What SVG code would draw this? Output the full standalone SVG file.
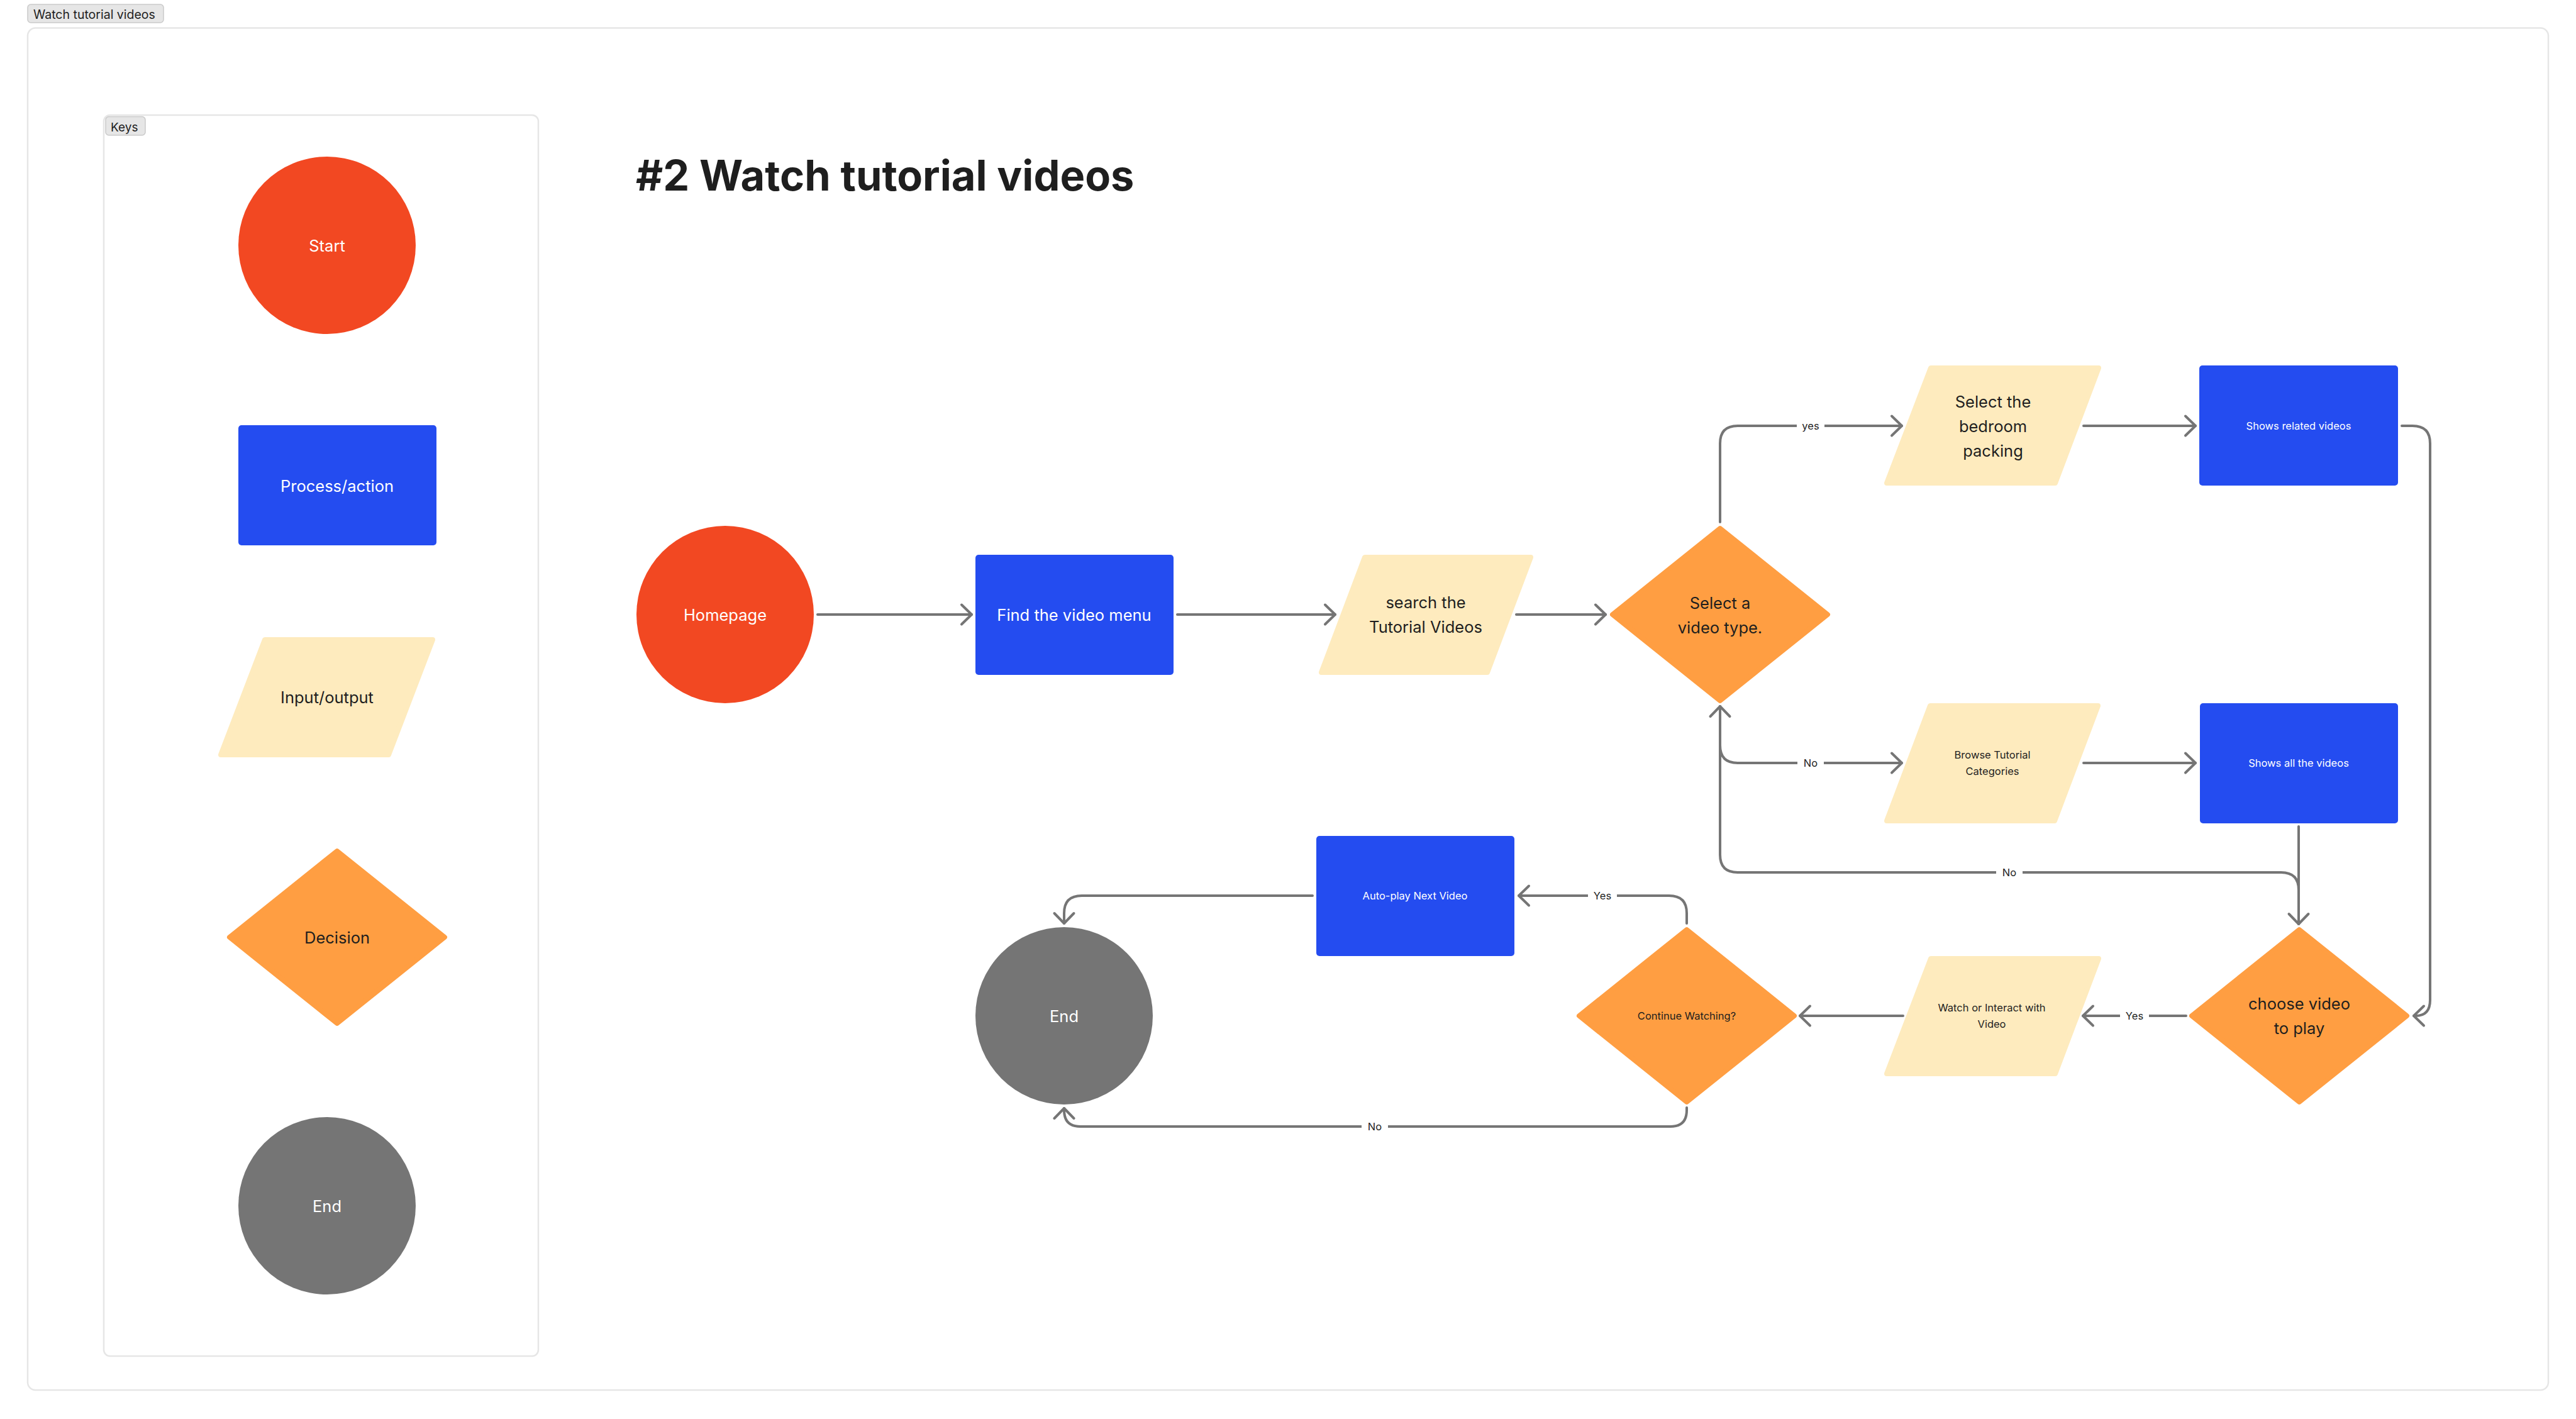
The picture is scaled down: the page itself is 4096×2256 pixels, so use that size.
<svg xmlns="http://www.w3.org/2000/svg" width="4096" height="2256" viewBox="0 0 4096 2256">
<style>
.t{font-family:Inter,'Liberation Sans',sans-serif}
.big{font-size:25.5px;text-anchor:middle}
.sm{font-size:16.5px;text-anchor:middle}
.w{fill:#ffffff}
.d{fill:#1E1E1E}
.red{fill:#F24822}
.blue{fill:#244CF0}
.yel{fill:#FEEBBE;stroke:#FEEBBE;stroke-width:8;stroke-linejoin:round}
.org{fill:#FF9E42;stroke:#FF9E42;stroke-width:8;stroke-linejoin:round}
.gry{fill:#757575}
.conn{fill:none;stroke:#757575;stroke-width:4;stroke-linecap:round;stroke-linejoin:round}
.lbg{fill:#ffffff}
.lbl{font-size:16.5px;text-anchor:middle;fill:#1E1E1E}
.frame{fill:none;stroke:#E6E6E6;stroke-width:2.5}
.tag{fill:#E6E6E6;stroke:#CACACA;stroke-width:1.5}
</style>
<defs>
<marker id="arr" markerUnits="userSpaceOnUse" markerWidth="40" markerHeight="40" refX="0" refY="0" orient="auto" overflow="visible">
<path d="M -16 -15.5 L 0 0 L -16 15.5" fill="none" stroke="#757575" stroke-width="4" stroke-linecap="round" stroke-linejoin="round"/>
</marker>
</defs>
<rect width="4096" height="2256" fill="#ffffff"/>

<g id="frame-main">
<rect class="frame" x="44" y="44.5" width="4008" height="2165.5" rx="12.5"/>
<rect class="tag" x="44" y="7" width="216" height="29" rx="5"/>
<text class="t d" x="53" y="29.5" font-size="19.5">Watch tutorial videos</text>
</g>

<g id="keys-frame">
<rect class="frame" x="165" y="183" width="691" height="1973" rx="10"/>
<rect class="tag" x="168" y="185.5" width="63" height="29.5" rx="5"/>
<text class="t d" x="176" y="209" font-size="19">Keys</text>
</g>

<g id="key-start">
<circle class="red" cx="520" cy="390" r="141"/>
<text class="t big w" x="520" y="399.5">Start</text>
</g>
<g id="key-process">
<rect class="blue" x="379" y="676" width="315" height="191" rx="5"/>
<text class="t big w" x="536" y="781.5">Process/action</text>
</g>
<g id="key-io">
<polygon class="yel" points="421,1017 688,1017 618,1200 351,1200"/>
<text class="t big d" x="520" y="1117.5">Input/output</text>
</g>
<g id="key-decision">
<polygon class="org" points="536,1353 707,1490 536,1627 365,1490"/>
<text class="t big d" x="536" y="1499.5">Decision</text>
</g>
<g id="key-end">
<circle class="gry" cx="520" cy="1917" r="141"/>
<text class="t big w" x="520" y="1926.5">End</text>
</g>

<g id="title">
<text class="t d" x="1011" y="303" font-size="66.7" font-weight="700">#2 Watch tutorial videos</text>
</g>

<g id="connectors">
<path class="conn" marker-end="url(#arr)" d="M 1300 977 L 1545 977"/>
<path class="conn" marker-end="url(#arr)" d="M 1872 977 L 2123 977"/>
<path class="conn" marker-end="url(#arr)" d="M 2411 977 L 2553 977"/>
<path class="conn" marker-end="url(#arr)" d="M 2735 830 L 2735 705 Q 2735 677 2763 677 L 3024 677"/>
<path class="conn" marker-end="url(#arr)" d="M 3313 677 L 3491 677"/>
<path class="conn" marker-end="url(#arr)" d="M 3819 677 L 3836 677 Q 3864 677 3864 705 L 3864 1590 Q 3864 1615 3841 1615 L 3838 1615"/>
<path class="conn" marker-end="url(#arr)" d="M 2735 1123 L 2735 1185 Q 2735 1213 2763 1213 L 3024 1213"/>
<path class="conn" marker-end="url(#arr)" d="M 3313 1213 L 3491 1213"/>
<path class="conn" marker-end="url(#arr)" d="M 3655 1314 L 3655 1469"/>
<path class="conn" marker-end="url(#arr)" d="M 3655 1469 L 3655 1415 Q 3655 1387 3627 1387 L 2763 1387 Q 2735 1387 2735 1359 L 2735 1123"/>
<path class="conn" marker-end="url(#arr)" d="M 3476 1615 L 3312 1615"/>
<path class="conn" marker-end="url(#arr)" d="M 3026 1615 L 2862 1615"/>
<path class="conn" marker-end="url(#arr)" d="M 2682 1468 L 2682 1452 Q 2682 1424 2654 1424 L 2415 1424"/>
<path class="conn" marker-end="url(#arr)" d="M 2087 1424 L 1720 1424 Q 1692 1424 1692 1452 L 1692 1468"/>
<path class="conn" marker-end="url(#arr)" d="M 2682 1761 L 2682 1765 Q 2682 1791 2656 1791 L 1718 1791 Q 1692 1791 1692 1765 L 1692 1762"/>
<rect class="lbg" x="2857" y="665" width="44" height="24"/>
<text class="t lbl" x="2879" y="683">yes</text>
<rect class="lbg" x="2858" y="1201" width="42" height="24"/>
<text class="t lbl" x="2879" y="1219">No</text>
<rect class="lbg" x="3174" y="1375" width="42" height="24"/>
<text class="t lbl" x="3195" y="1393">No</text>
<rect class="lbg" x="3371" y="1603" width="46" height="24"/>
<text class="t lbl" x="3394" y="1621">Yes</text>
<rect class="lbg" x="2525" y="1412" width="46" height="24"/>
<text class="t lbl" x="2548" y="1430">Yes</text>
<rect class="lbg" x="2165" y="1779" width="42" height="24"/>
<text class="t lbl" x="2186" y="1797">No</text>
</g>

<g id="homepage">
<circle class="red" cx="1153" cy="977" r="141"/>
<text class="t big w" x="1153" y="986.5">Homepage</text>
</g>
<g id="find-video-menu">
<rect class="blue" x="1551" y="882" width="315" height="191" rx="5"/>
<text class="t big w" x="1708" y="986.5">Find the video menu</text>
</g>
<g id="search-tutorial-videos">
<polygon class="yel" points="2170,886 2434,886 2365,1069 2101,1069"/>
<text class="t big d" x="2267" y="967">search the</text>
<text class="t big d" x="2267" y="1006">Tutorial Videos</text>
</g>
<g id="select-video-type">
<polygon class="org" points="2735,840 2906,977 2735,1114 2564,977"/>
<text class="t big d" x="2735" y="968">Select a</text>
<text class="t big d" x="2735" y="1007">video type.</text>
</g>
<g id="select-bedroom-packing">
<polygon class="yel" points="3070,585 3337,585 3268,768 3000,768"/>
<text class="t big d" x="3169" y="648">Select the</text>
<text class="t big d" x="3169" y="687">bedroom</text>
<text class="t big d" x="3169" y="726">packing</text>
</g>
<g id="shows-related-videos">
<rect class="blue" x="3497" y="581" width="316" height="191" rx="5"/>
<text class="t sm w" x="3655" y="683">Shows related videos</text>
</g>
<g id="browse-tutorial-categories">
<polygon class="yel" points="3069,1122 3336,1122 3267,1305 3000,1305"/>
<text class="t sm d" x="3168" y="1206">Browse Tutorial</text>
<text class="t sm d" x="3168" y="1232">Categories</text>
</g>
<g id="shows-all-videos">
<rect class="blue" x="3498" y="1118" width="315" height="191" rx="5"/>
<text class="t sm w" x="3655" y="1219">Shows all the videos</text>
</g>
<g id="choose-video">
<polygon class="org" points="3656,1478 3827,1615 3656,1752 3485,1615"/>
<text class="t big d" x="3656" y="1605">choose video</text>
<text class="t big d" x="3656" y="1644">to play</text>
</g>
<g id="watch-or-interact">
<polygon class="yel" points="3070,1524 3337,1524 3268,1707 3000,1707"/>
<text class="t sm d" x="3167" y="1608">Watch or Interact with</text>
<text class="t sm d" x="3167" y="1634">Video</text>
</g>
<g id="continue-watching">
<polygon class="org" points="2682,1478 2853,1615 2682,1752 2511,1615"/>
<text class="t sm d" x="2682" y="1621">Continue Watching?</text>
</g>
<g id="auto-play-next">
<rect class="blue" x="2093" y="1329" width="315" height="191" rx="5"/>
<text class="t sm w" x="2250" y="1430">Auto-play Next Video</text>
</g>
<g id="end">
<circle class="gry" cx="1692" cy="1615" r="141"/>
<text class="t big w" x="1692" y="1624.5">End</text>
</g>
</svg>
